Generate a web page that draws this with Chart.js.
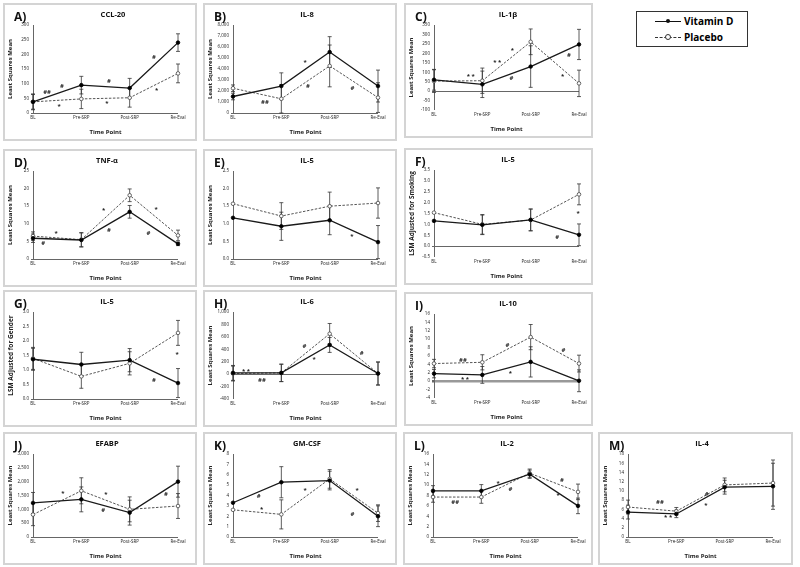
<!DOCTYPE html>
<html>
<head>
<meta charset="utf-8">
<script src="https://cdn.jsdelivr.net/npm/chart.js@4"></script>
<style>
  body { margin: 0; background: #fff; width: 800px; height: 567px; position: relative; overflow: hidden; font-family: 'Open Sans', sans-serif; }
  .panel { position: absolute; box-sizing: border-box; border: 2px solid #d4d4d4; background: #fff; }
  .panel canvas { position: absolute; left: 0; top: 0; }
  .letter { position: absolute; font-weight: bold; font-size: 12px; color: #111; }
  .legend { position: absolute; left: 636px; top: 11px; width: 112px; height: 36px; box-sizing: border-box; border: 1px solid #333; font-weight: bold; font-size: 10px; }
  .legend .row { position: absolute; left: 18px; height: 12px; line-height: 12px; }
  .sample { display: inline-block; position: relative; width: 26px; height: 12px; vertical-align: top; margin-right: 3px; }
  .sample .ln { position: absolute; left: 0; right: 0; top: 6px; }
  .sample .dot { position: absolute; left: 11px; top: 4px; width: 4px; height: 4px; border-radius: 50%; }
</style>
</head>
<body>
<div class="legend">
  <div class="row" style="top:3px"><span class="sample"><span class="ln" style="border-top:1.3px solid #111"></span><span class="dot" style="background:#111"></span></span>Vitamin D</div>
  <div class="row" style="top:19px"><span class="sample"><span class="ln" style="border-top:1.3px dashed #333"></span><span class="dot" style="background:#fff;border:1px solid #333;left:10px;top:3px"></span></span>Placebo</div>
</div>
<script>
const timePoints = ['BL', 'Pre-SRP', 'Post-SRP', 'Re-Eval']

// A) CCL-20
const ccl20Vit = [38, 95, 85, 240]
const ccl20Pla = [38, 48, 52, 135]
const ccl20VitErr = [27, 30, 33, 30]
const ccl20PlaErr = [25, 33, 32, 32]
const ccl20Axis = [0, 300, 50]
const ccl20Marks = [[0.29, 72, '##'], [0.6, 90, '#'], [0.54, 24, '*'], [1.57, 107, '#'], [1.53, 34, '*'], [2.5, 190, '#'], [2.56, 79, '*']]

// B) IL-8
const il8Vit = [1500, 2450, 5540, 2450]
const il8Pla = [2250, 1290, 4280, 1400]
const il8VitErr = [300, 1200, 1400, 1450]
const il8PlaErr = [300, 1290, 1900, 1350]
const il8Axis = [0, 8000, 1000]
const il8Marks = [[0.66, 990, '##'], [1.49, 4600, '*'], [1.55, 2450, '#'], [2.47, 2250, '#']]

// C) IL-1β
const il1bVit = [60, 36, 130, 247]
const il1bPla = [53, 55, 261, 41]
const il1bVitErr = [55, 70, 110, 80]
const il1bPlaErr = [60, 67, 68, 70]
const il1bAxis = [-100, 350, 50]
const il1bMarks = [[0.76, 76, '* *'], [1.31, 153, '* *'], [1.62, 216, '*'], [1.6, 67, '#'], [2.79, 192, '#'], [2.66, 79, '*']]

// D) TNF-α
const tnfVit = [5.9, 5.4, 13.4, 4.3]
const tnfPla = [6.5, 5.5, 18.1, 6.7]
const tnfVitErr = [1.2, 2, 1.8, 0.5]
const tnfPlaErr = [1.2, 2, 1.8, 1.5]
const tnfAxis = [0, 25, 5]
const tnfMarks = [[0.21, 4.5, '#'], [0.48, 7.2, '*'], [1.46, 13.8, '*'], [1.57, 8.1, '#'], [2.55, 14.1, '*'], [2.39, 7.2, '#']]

// E) IL-5
const il5Vit = [1.17, 0.93, 1.10, 0.48]
const il5Pla = [1.57, 1.22, 1.50, 1.59]
const il5VitErr = [0, 0.4, 0.41, 0.47]
const il5PlaErr = [0, 0.38, 0.4, 0.43]
const il5Axis = [0, 2.5, 0.5]
const il5Marks = [[2.46, 0.65, '*']]

// F) IL-5 adjusted for smoking
const il5sVit = [1.16, 0.98, 1.21, 0.52]
const il5sPla = [1.54, 1.0, 1.2, 2.38]
const il5sVitErr = [0, 0.45, 0.5, 0.5]
const il5sPlaErr = [0, 0.45, 0.5, 0.48]
const il5sAxis = [-0.5, 3.5, 0.5]
const il5sMarks = [[2.98, 1.51, '*'], [2.55, 0.41, '#']]

// G) IL-5 adjusted for gender
const il5gVit = [1.37, 1.19, 1.34, 0.55]
const il5gPla = [1.4, 0.78, 1.23, 2.28]
const il5gVitErr = [0.38, 0.42, 0.4, 0.5]
const il5gPlaErr = [0.38, 0.41, 0.4, 0.43]
const il5gAxis = [0, 3, 0.5]
const il5gMarks = [[2.98, 1.54, '*'], [2.5, 0.64, '#']]

// H) IL-6
const il6Vit = [20, 20, 470, 10]
const il6Pla = [10, 20, 650, 10]
const il6VitErr = [120, 140, 120, 185]
const il6PlaErr = [120, 140, 165, 185]
const il6Axis = [-400, 1000, 200]
const il6Marks = [[0.27, 52, '* *'], [0.6, -100, '##'], [1.48, 455, '#'], [1.68, 232, '*'], [2.66, 335, '#']]

// I) IL-10
const il10Vit = [1.8, 1.5, 4.6, 0.1]
const il10Pla = [4.2, 4.5, 10.5, 4.2]
const il10VitErr = [1, 2, 3.6, 2.6]
const il10PlaErr = [1, 1.8, 3, 2]
const il10Axis = [-4, 16, 2]
const il10Marks = [[0.6, 5.0, '##'], [0.64, 0.46, '* *'], [1.52, 8.5, '#'], [1.58, 1.77, '*'], [2.68, 7.4, '#']]

// J) EFABP
const efabpVit = [1230, 1360, 880, 2000]
const efabpPla = [810, 1670, 1000, 1120]
const efabpVitErr = [380, 450, 450, 560]
const efabpPlaErr = [400, 470, 450, 450]
const efabpAxis = [0, 3000, 500]
const efabpMarks = [[0.62, 1570, '*'], [1.51, 1550, '*'], [1.45, 970, '#'], [2.75, 1540, '#']]

// K) GM-CSF
const gmcsfVit = [3.3, 5.28, 5.44, 2.0]
const gmcsfPla = [2.62, 2.18, 5.6, 2.3]
const gmcsfVitErr = [0, 1.5, 0.9, 1.0]
const gmcsfPlaErr = [0, 1.4, 0.9, 0.8]
const gmcsfAxis = [0, 8, 1]
const gmcsfMarks = [[0.53, 3.94, '#'], [0.59, 2.66, '*'], [1.49, 4.48, '*'], [2.47, 2.2, '#'], [2.57, 4.48, '*']]

// L) IL-2
const il2Vit = [8.9, 8.9, 12.1, 6.0]
const il2Pla = [7.7, 7.7, 12.3, 8.7]
const il2VitErr = [1, 1.2, 0.8, 1.5]
const il2PlaErr = [1, 1.2, 0.8, 1.5]
const il2Axis = [0, 16, 2]
const il2Marks = [[0.46, 6.7, '##'], [1.35, 10.4, '*'], [1.6, 9.2, '#'], [2.67, 11, '#'], [2.59, 8.1, '*']]

// M) IL-4
const il4Vit = [5.4, 5.0, 10.8, 11.0]
const il4Pla = [6.5, 5.6, 11.3, 11.7]
const il4VitErr = [1.5, 0.8, 1.5, 5]
const il4PlaErr = [1.5, 0.8, 1.5, 5]
const il4Axis = [0, 18, 2]
const il4Marks = [[0.66, 7.6, '##'], [0.83, 4.3, '* *'], [1.63, 9.3, '#'], [1.61, 6.9, '*']]

Chart.defaults.font.family = "'Open Sans', sans-serif"
Chart.defaults.color = '#222'

// vertical error bars with caps, from dataset.errors
const errorBars = {
    id: 'errorBars',
    beforeDatasetsDraw(chart) {
        const ctx = chart.ctx
        const y = chart.scales.y
        chart.data.datasets.forEach((ds, di) => {
            const meta = chart.getDatasetMeta(di)
            ctx.save()
            ctx.strokeStyle = '#333'
            ctx.lineWidth = 0.8
            meta.data.forEach((pt, i) => {
                const e = ds.errors[i]
                if (!e) return
                const top = y.getPixelForValue(ds.data[i] + e)
                const bot = y.getPixelForValue(ds.data[i] - e)
                ctx.beginPath()
                ctx.moveTo(pt.x, top); ctx.lineTo(pt.x, bot)
                ctx.moveTo(pt.x - 2, top); ctx.lineTo(pt.x + 2, top)
                ctx.moveTo(pt.x - 2, bot); ctx.lineTo(pt.x + 2, bot)
                ctx.stroke()
            })
            ctx.restore()
        })
    }
}

// significance marks (*, #) in data coordinates, x category labels and the panel title
const sigMarks = {
    id: 'sigMarks',
    afterDatasetsDraw(chart, args, opts) {
        const ctx = chart.ctx
        const xs = chart.scales.x, ys = chart.scales.y
        ctx.save()
        ctx.fillStyle = '#222'
        ctx.textAlign = 'center'
        ctx.textBaseline = 'middle'
        ctx.font = "bold 6px 'Open Sans', sans-serif"
        opts.items.forEach(m => {
            ctx.fillText(m[2], xs.getPixelForValue(m[0]), ys.getPixelForValue(m[1]))
        })
        ctx.font = "4.5px 'Open Sans', sans-serif"
        chart.data.labels.forEach((lab, i) => {
            ctx.fillText(lab, xs.getPixelForValue(i), chart.chartArea.bottom + 5)
        })
        ctx.fillStyle = '#111'
        ctx.font = "bold 7.5px 'Open Sans', sans-serif"
        ctx.fillText(opts.title, opts.titleX, 10)
        ctx.restore()
    }
}

function fmt(v, dec) {
    return dec ? v.toFixed(dec) : v.toLocaleString('en-US')
}

function makePanel(p) {
    const div = document.createElement('div')
    div.className = 'panel'
    div.style.left = p.box[0] + 'px'
    div.style.top = p.box[1] + 'px'
    div.style.width = p.box[2] + 'px'
    div.style.height = p.box[3] + 'px'
    document.body.appendChild(div)

    const cw = p.box[2] - 4, ch = p.box[3] - 4
    const canvas = document.createElement('canvas')
    canvas.width = cw
    canvas.height = ch
    div.appendChild(canvas)

    const letter = document.createElement('div')
    letter.className = 'letter'
    letter.style.left = '9px'
    letter.style.top = '3px'
    letter.textContent = p.letter
    div.appendChild(letter)

    const plotLeft = 28, plotTop = 20, plotW = 145
    const plotBottom = ch - 26
    const axis = p.axis

    new Chart(canvas, {
        type: 'line',
        data: {
            labels: timePoints,
            datasets: [{
                label: 'Vitamin D',
                data: p.vit,
                errors: p.vitErr,
                borderColor: '#1a1a1a',
                borderWidth: 1.3,
                pointRadius: 1.8,
                pointBackgroundColor: '#000',
                pointBorderColor: '#000',
                pointBorderWidth: 0.8
            }, {
                label: 'Placebo',
                data: p.pla,
                errors: p.plaErr,
                borderColor: '#555',
                borderWidth: 1,
                borderDash: [2.5, 1.5],
                pointRadius: 1.8,
                pointBackgroundColor: '#fff',
                pointBorderColor: '#444',
                pointBorderWidth: 0.8
            }]
        },
        options: {
            responsive: false,
            animation: false,
            layout: { padding: { left: 0, top: plotTop, right: cw - plotLeft - plotW, bottom: 0 } },
            plugins: {
                legend: { display: false },
                tooltip: { enabled: false },
                sigMarks: { items: p.marks, title: p.title, titleX: p.titleX || 102 }
            },
            scales: {
                x: {
                    offset: false,
                    grid: { display: false, drawTicks: false },
                    border: { display: false },
                    ticks: { display: false },
                    title: { display: true, text: 'Time Point', font: { size: 6, weight: 'bold' }, padding: { top: 0, bottom: 3 } },
                    afterFit: s => { s.height = ch - plotBottom }
                },
                y: {
                    min: axis[0],
                    max: axis[1],
                    ticks: { stepSize: axis[2], font: { size: 4.5 }, padding: 2, callback: v => fmt(v, p.dec) },
                    grid: {
                        color: c => c.tick && c.tick.value === 0 ? (p.zeroColor || '#666') : 'transparent',
                        lineWidth: c => c.tick && c.tick.value === 0 ? (p.zeroWidth || 1) : 0,
                        tickColor: '#666',
                        tickLength: 2
                    },
                    border: { display: true, color: '#666', width: 1 },
                    title: { display: true, text: p.yTitle || 'Least Squares Mean', font: { size: p.yTitleSize || 6, weight: 'bold' }, padding: { top: 2, bottom: 0 } },
                    afterFit: s => { s.width = plotLeft }
                }
            }
        },
        plugins: [errorBars, sigMarks]
    })
}

const panels = [
    { letter: 'A)', title: 'CCL-20', titleX: 108, box: [3, 3, 194, 138], vit: ccl20Vit, pla: ccl20Pla, vitErr: ccl20VitErr, plaErr: ccl20PlaErr, axis: ccl20Axis, marks: ccl20Marks },
    { letter: 'B)', title: 'IL-8', box: [203, 3, 194, 138], vit: il8Vit, pla: il8Pla, vitErr: il8VitErr, plaErr: il8PlaErr, axis: il8Axis, marks: il8Marks },
    { letter: 'C)', title: 'IL-1β', box: [404, 3, 189, 135], vit: il1bVit, pla: il1bPla, vitErr: il1bVitErr, plaErr: il1bPlaErr, axis: il1bAxis, marks: il1bMarks },
    { letter: 'D)', title: 'TNF-α', box: [3, 149, 194, 138], vit: tnfVit, pla: tnfPla, vitErr: tnfVitErr, plaErr: tnfPlaErr, axis: tnfAxis, marks: tnfMarks },
    { letter: 'E)', title: 'IL-5', box: [203, 149, 194, 138], vit: il5Vit, pla: il5Pla, vitErr: il5VitErr, plaErr: il5PlaErr, axis: il5Axis, marks: il5Marks, dec: 1 },
    { letter: 'F)', title: 'IL-5', box: [404, 148, 189, 137], vit: il5sVit, pla: il5sPla, vitErr: il5sVitErr, plaErr: il5sPlaErr, axis: il5sAxis, marks: il5sMarks, dec: 1, yTitle: 'LSM Adjusted for Smoking', yTitleSize: 6.5 },
    { letter: 'G)', title: 'IL-5', box: [3, 290, 194, 137], vit: il5gVit, pla: il5gPla, vitErr: il5gVitErr, plaErr: il5gPlaErr, axis: il5gAxis, marks: il5gMarks, dec: 1, yTitle: 'LSM Adjusted for Gender', yTitleSize: 6.5 },
    { letter: 'H)', title: 'IL-6', box: [203, 290, 194, 137], vit: il6Vit, pla: il6Pla, vitErr: il6VitErr, plaErr: il6PlaErr, axis: il6Axis, marks: il6Marks },
    { letter: 'I)', title: 'IL-10', box: [404, 292, 189, 134], vit: il10Vit, pla: il10Pla, vitErr: il10VitErr, plaErr: il10PlaErr, axis: il10Axis, marks: il10Marks, zeroColor: '#999', zeroWidth: 2.5 },
    { letter: 'J)', title: 'EFABP', box: [3, 432, 194, 133], vit: efabpVit, pla: efabpPla, vitErr: efabpVitErr, plaErr: efabpPlaErr, axis: efabpAxis, marks: efabpMarks },
    { letter: 'K)', title: 'GM-CSF', box: [203, 432, 194, 133], vit: gmcsfVit, pla: gmcsfPla, vitErr: gmcsfVitErr, plaErr: gmcsfPlaErr, axis: gmcsfAxis, marks: gmcsfMarks },
    { letter: 'L)', title: 'IL-2', box: [403, 432, 190, 133], vit: il2Vit, pla: il2Pla, vitErr: il2VitErr, plaErr: il2PlaErr, axis: il2Axis, marks: il2Marks },
    { letter: 'M)', title: 'IL-4', box: [598, 432, 195, 133], vit: il4Vit, pla: il4Pla, vitErr: il4VitErr, plaErr: il4PlaErr, axis: il4Axis, marks: il4Marks }
]

panels.forEach(makePanel)
</script>
</body>
</html>
